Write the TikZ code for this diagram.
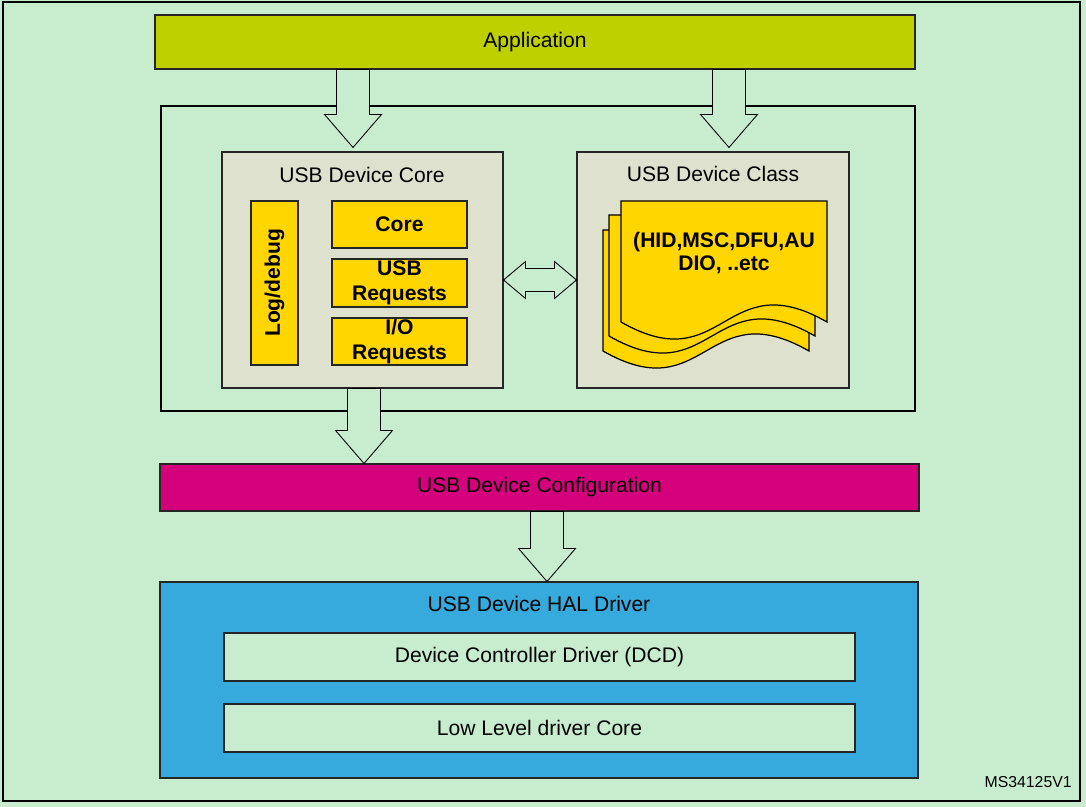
\documentclass[tikz,border=0pt]{standalone}
\usepackage{fontspec}
\setmainfont{Liberation Sans}
\usetikzlibrary{calc}

\newlength{\du}
\setlength{\du}{0.02cm}

\definecolor{bgcolor}{rgb}{0.784314, 0.929412, 0.807843}
\definecolor{appcolor}{rgb}{0.749020, 0.815686, 0.000000}
\definecolor{corecolor}{rgb}{0.870588, 0.882353, 0.803922}
\definecolor{yellowcolor}{rgb}{1.000000, 0.839216, 0.000000}
\definecolor{cfgcolor}{rgb}{0.835294, 0.000000, 0.482353}
\definecolor{halcolor}{rgb}{0.211765, 0.666667, 0.866667}
\definecolor{linecolor}{rgb}{0.150000, 0.150000, 0.150000}

\tikzset{
  box/.style={draw=linecolor, line width=0.6pt, inner sep=0pt, align=center, font=\fontsize{12}{14}\selectfont},
  boldbox/.style={box, fill=yellowcolor, font=\fontsize{12}{14}\selectfont\bfseries},
  frame/.style={draw=black, line width=1.6pt, inner sep=0pt},
  blockarrow/.style={draw=black, fill=bgcolor, line width=0.5pt, line join=miter},
  sheet/.style={draw=black, fill=yellowcolor, line width=0.7pt},
  plain/.style={inner sep=0pt, align=center, font=\fontsize{12}{14}\selectfont}
}

% down block arrow, start point and tip
\newcommand{\downblock}[2]{%
\draw[blockarrow] let \p1=#1, \p2=#2 in
  (\x1-16.5\du,\y1)--(\x1-16.5\du,\y2+33\du)--(\x1-28.5\du,\y2+33\du)--(\x1,\y2)
  --(\x1+28.5\du,\y2+33\du)--(\x1+16.5\du,\y2+33\du)--(\x1+16.5\du,\y1)--cycle;}

% one sheet of the class stack, top left corner
\newcommand{\docsheet}[2]{%
\draw[sheet] (#1,#2)--(#1+206,#2)--(#1+206,#2+121)
  .. controls (#1+103,#2+62) and (#1+103,#2+180) .. (#1,#2+121)--cycle;}

\begin{document}
\begin{tikzpicture}[x=1\du,y=-1\du]
\useasboundingbox (0,0) rectangle (1086,807);
\fill[bgcolor] (0,0) rectangle (1086,807);
\node[frame, line width=1.5pt, minimum width=1077\du, minimum height=799\du] (page) at (541.5,401.5) {};

% middle layer
\node[frame, minimum width=754\du, minimum height=305\du] (stack) at (538,258.5) {};
\node[box, fill=appcolor, minimum width=760\du, minimum height=54\du] (app) at (535,42) {Application};

\node[box, fill=corecolor, minimum width=281\du, minimum height=236\du] (core) at (362.5,270) {};
\node[plain] (coretitle) at (362,175) {USB Device Core};
\node[boldbox, rotate=90, minimum width=164\du, minimum height=47\du] (logdbg) at (274.5,283) {Log/debug};
\node[boldbox, minimum width=135\du, minimum height=47\du] (corebox) at (399.5,224.5) {Core};
\node[boldbox, minimum width=135\du, minimum height=48\du] (usbreq) at (399.5,283) {USB\\Requests};
\node[boldbox, minimum width=135\du, minimum height=47\du] (ioreq) at (399.5,341.5) {I/O\\Requests};

\node[box, fill=corecolor, minimum width=272\du, minimum height=236\du] (class) at (713,270) {};
\node[plain] (classtitle) at (713,174) {USB Device Class};
\docsheet{603}{230}
\docsheet{609}{215}
\docsheet{621}{201}
\node[plain, font=\fontsize{12}{13.6}\selectfont\bfseries] (classtxt) at (724,253) {(HID,MSC,DFU,AU\\DIO, ..etc};

% lower layers
\node[box, fill=cfgcolor, minimum width=759\du, minimum height=47\du] (config) at (539.5,487.5) {USB Device Configuration};
\node[box, fill=halcolor, minimum width=758\du, minimum height=196\du] (hal) at (539,680) {};
\node[plain] (haltitle) at (539,604) {USB Device HAL Driver};
\node[box, fill=bgcolor, minimum width=631\du, minimum height=48\du] (dcd) at (539.5,657) {Device Controller Driver (DCD)};
\node[box, fill=bgcolor, minimum width=631\du, minimum height=48\du] (lld) at (539.5,728) {Low Level driver Core};

\node[plain, anchor=east, font=\fontsize{9}{11}\selectfont] (msid) at (1072,782) {MS34125V1};

% arrows
\coordinate (appL) at (353,0);
\coordinate (appR) at (729,0);
\coordinate (coreX) at (364,0);
\coordinate (cfgX) at (547,0);
\downblock{(app.south -| appL)}{($(core.north -| appL)+(0,-4)$)}
\downblock{(app.south -| appR)}{($(class.north -| appR)+(0,-4)$)}
\downblock{(core.south -| coreX)}{(config.north -| coreX)}
\downblock{(config.south -| cfgX)}{(hal.north -| cfgX)}
\draw[blockarrow] let \p1=($(core.east)+(0,10)$), \p2=($(class.west)+(0,10)$) in
  (\x1,\y1)--(\x1+22\du,\y1+18.5\du)--(\x1+22\du,\y1+11.5\du)--(\x2-22\du,\y1+11.5\du)
  --(\x2-22\du,\y1+18.5\du)--(\x2,\y1)--(\x2-22\du,\y1-18.5\du)--(\x2-22\du,\y1-11.5\du)
  --(\x1+22\du,\y1-11.5\du)--(\x1+22\du,\y1-18.5\du)--cycle;
\end{tikzpicture}
\end{document}
